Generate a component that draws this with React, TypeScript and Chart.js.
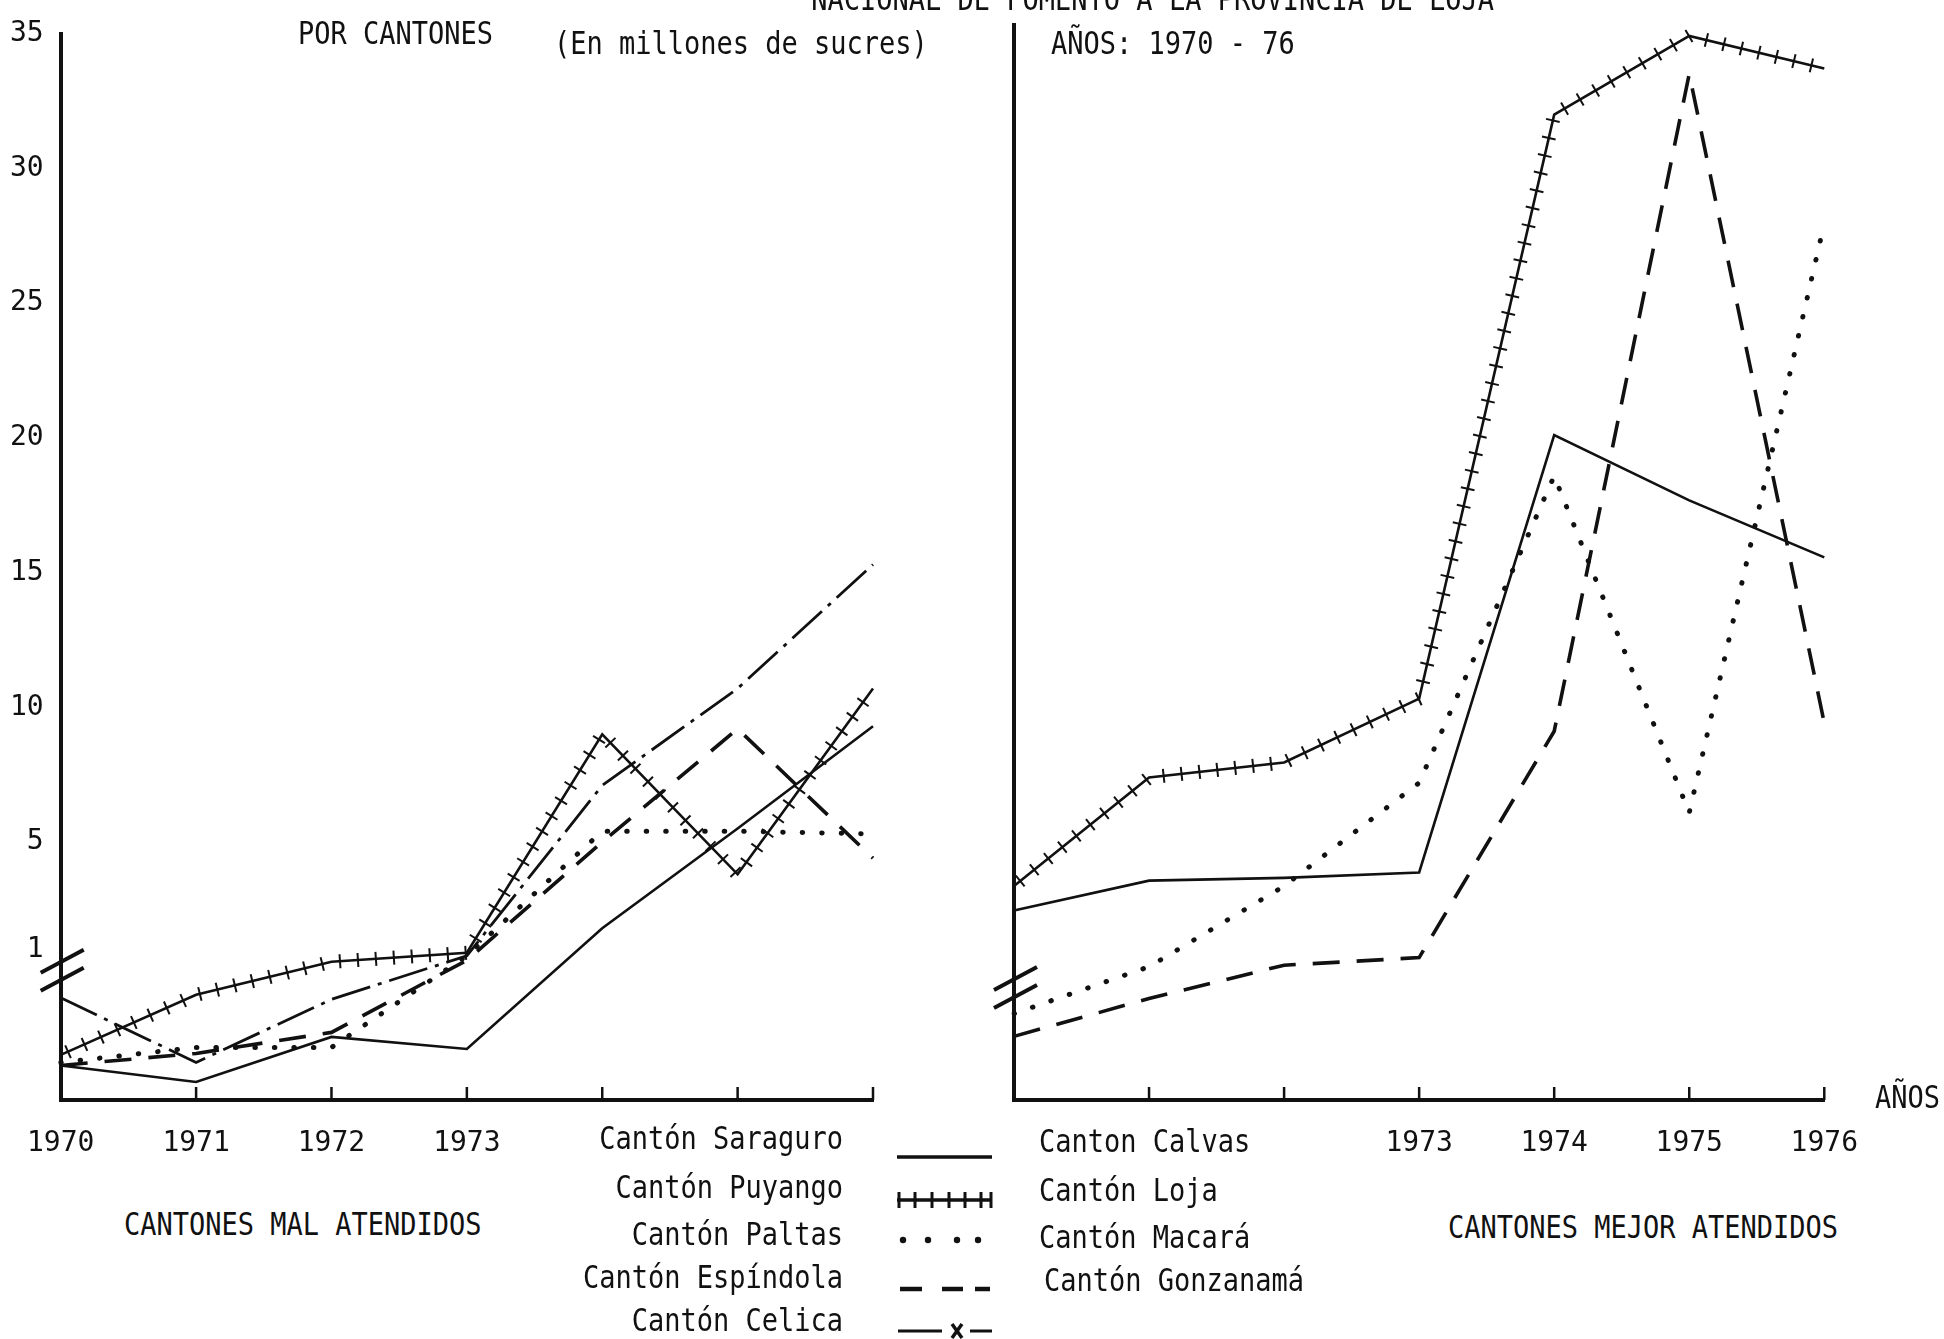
import React, { useEffect, useRef } from 'react';
import { Chart, registerables, LinearScale } from 'chart.js';

Chart.register(...registerables);

// ---------------- data ----------------
const years = ['1970', '1971', '1972', '1973', '1974', '1975', '1976'];
const leftYearLabels = ['1970', '1971', '1972', '1973', '', '', ''];
const rightYearLabels = ['', '', '', '1973', '1974', '1975', '1976'];
const yTicks = [1, 5, 10, 15, 20, 25, 30, 35];

// Cantones mal atendidos (millones de sucres)
const saraguro = [0.23, 0.12, 0.42, 0.34, 1.8, 5.5, 9.3];
const puyango = [0.3, 0.7, 0.92, 0.98, 9.0, 3.8, 10.7];
const paltas = [0.25, 0.35, 0.35, 0.96, 5.4, 5.4, 5.3];
const espindola = [0.23, 0.31, 0.45, 0.93, 5.0, 9.2, 4.4];
const celica = [0.68, 0.25, 0.67, 0.96, 7.1, 10.7, 15.3];

// Cantones mejor atendidos
const calvas = [2.4, 3.5, 3.6, 3.8, 19.9, 17.5, 15.4];
const loja = [3.3, 7.3, 7.85, 10.2, 31.7, 34.6, 33.4];
const macara = [0.57, 0.88, 3.3, 7.1, 18.4, 6.0, 27.7];
const gonzanama = [0.42, 0.67, 0.89, 0.94, 9.0, 33.2, 9.3];

const leftNames = ['Cantón Saraguro', 'Cantón Puyango', 'Cantón Paltas', 'Cantón Espíndola', 'Cantón Celica'];
const rightNames = ['Canton Calvas', 'Cantón Loja', 'Cantón Macará', 'Cantón Gonzanamá'];
const lineStyles = ['solid', 'hatch', 'dots', 'dash', 'dashx'];

// ---------------- styling ----------------
const FONT = '"DejaVu Sans Mono", monospace';
const INK = '#111';
const BREAK_FRACTION = 0.1409; // share of axis height used by the 0..1 segment under the break
const PLOT_BOTTOM = 1100;
const CANVAS_H = 1180;

class BrokenLinearScale extends LinearScale {
  static id = 'brokenLinear';
  static defaults = LinearScale.defaults;
  getPixelForValue(value: number) {
    const max = this.max;
    const d = value <= 1
      ? value * BREAK_FRACTION
      : BREAK_FRACTION + ((value - 1) / (max - 1)) * (1 - BREAK_FRACTION);
    return this.getPixelForDecimal(d);
  }
  getValueForPixel(pixel: number) {
    const d = this.getDecimalForPixel(pixel);
    const max = this.max;
    return d <= BREAK_FRACTION ? d / BREAK_FRACTION : 1 + ((d - BREAK_FRACTION) / (1 - BREAK_FRACTION)) * (max - 1);
  }
}
Chart.register(BrokenLinearScale as any);

function styleProps(style: string) {
  switch (style) {
    case 'solid': return { borderWidth: 2.6, borderDash: [] };
    case 'hatch': return { borderWidth: 2.6, borderDash: [], hatch: true };
    case 'dots': return { borderWidth: 5, borderDash: [0.5, 19], borderCapStyle: 'round' };
    case 'dash': return { borderWidth: 3.6, borderDash: [27, 17], borderCapStyle: 'butt' };
    case 'dashx': return { borderWidth: 2.8, borderDash: [40, 8, 4, 8], borderCapStyle: 'butt' };
  }
  return {};
}

const decorPlugin = {
  id: 'decor',
  afterDatasetsDraw(chart: any) {
    const ctx = chart.ctx;
    chart.data.datasets.forEach((ds: any, i: number) => {
      if (!ds.hatch) return;
      const pts = chart.getDatasetMeta(i).data.map((p: any) => ({ x: p.x, y: p.y }));
      ctx.save();
      ctx.strokeStyle = INK;
      ctx.lineWidth = 2;
      let carry = 8;
      const spacing = 18;
      for (let k = 0; k < pts.length - 1; k++) {
        const a = pts[k], b = pts[k + 1];
        const dx = b.x - a.x, dy = b.y - a.y;
        const len = Math.hypot(dx, dy);
        if (!len) continue;
        const ux = dx / len, uy = dy / len;
        const nx = -uy, ny = ux;
        let t = carry;
        while (t < len) {
          const cx = a.x + ux * t, cy = a.y + uy * t;
          ctx.beginPath();
          ctx.moveTo(cx - nx * 7, cy - ny * 7);
          ctx.lineTo(cx + nx * 7, cy + ny * 7);
          ctx.stroke();
          t += spacing;
        }
        carry = t - len;
      }
      ctx.restore();
    });
  },
  afterDraw(chart: any, _args: any, opts: any) {
    const ctx = chart.ctx;
    const xs = chart.scales.x;
    const ys = chart.scales.y;
    const area = chart.chartArea;
    ctx.save();
    ctx.strokeStyle = INK;
    // small upward tick marks on the x axis
    ctx.lineWidth = 2.5;
    for (let i = 1; i < years.length; i++) {
      const x = xs.getPixelForTick(i);
      ctx.beginPath();
      ctx.moveTo(x, area.bottom);
      ctx.lineTo(x, area.bottom - 13);
      ctx.stroke();
    }
    // axis break marks
    const yb = ys.getPixelForValue(opts.breakValue);
    const x0 = area.left;
    ctx.lineWidth = 4;
    [-9, 9].forEach((off) => {
      ctx.beginPath();
      ctx.moveTo(x0 - 20, yb + off + 11);
      ctx.lineTo(x0 + 23, yb + off - 12);
      ctx.stroke();
    });
    ctx.restore();
  },
};

type PanelProps = {
  left: number;
  width: number;
  yWidth: number;
  padRight: number;
  series: number[][];
  names: string[];
  xLabels: string[];
  showY: boolean;
  breakValue: number;
};

function Panel(props: PanelProps) {
  const ref = useRef<HTMLCanvasElement>(null);
  useEffect(() => {
    const datasets = props.series.map((data, i) => ({
      label: props.names[i],
      data,
      borderColor: INK,
      backgroundColor: INK,
      fill: false,
      pointRadius: 0,
      tension: 0,
      ...styleProps(lineStyles[i]),
    }));
    const chart = new Chart(ref.current as HTMLCanvasElement, {
      type: 'line',
      data: { labels: years, datasets: datasets as any },
      options: {
        responsive: false,
        animation: false,
        layout: { padding: { top: 25, right: props.padRight, bottom: 0, left: 0 } },
        plugins: {
          legend: { display: false },
          tooltip: { enabled: false },
          decor: { breakValue: props.breakValue },
        } as any,
        scales: {
          x: {
            type: 'category',
            offset: false,
            grid: { display: false, drawTicks: false },
            border: { display: true, width: 4, color: INK },
            ticks: {
              autoSkip: false,
              maxRotation: 0,
              padding: 27,
              color: INK,
              font: { family: FONT, size: 28 },
              callback: (_v: any, i: number) => props.xLabels[i],
            },
            afterFit: (s: any) => { s.height = CANVAS_H - PLOT_BOTTOM; },
          },
          y: {
            type: 'brokenLinear' as any,
            min: 0,
            max: 35,
            grid: { display: false, drawTicks: false },
            border: { display: true, width: 4, color: INK },
            ticks: {
              display: props.showY,
              autoSkip: false,
              padding: 17,
              color: INK,
              font: { family: FONT, size: 28 },
            },
            afterBuildTicks: (s: any) => { s.ticks = yTicks.map((v) => ({ value: v })); },
            afterFit: (s: any) => { s.width = props.yWidth; },
          } as any,
        },
      },
      plugins: [decorPlugin as any],
    });
    return () => chart.destroy();
  }, []);
  return (
    <canvas
      ref={ref}
      width={props.width}
      height={CANVAS_H}
      style={{ position: 'absolute', left: props.left, top: 0, width: props.width, height: CANVAS_H }}
    />
  );
}

function Txt({ x, cy, align = 'left', children }: { x: number; cy: number; align?: string; children: any }) {
  const style: any = {
    position: 'absolute',
    top: cy - 15,
    height: 30,
    lineHeight: '30px',
    fontFamily: FONT,
    fontSize: 27,
    color: INK,
    whiteSpace: 'nowrap',
    transform: 'scaleY(1.18)',
  };
  if (align === 'right') {
    style.left = x - 1000;
    style.width = 1000;
    style.textAlign = 'right';
  } else {
    style.left = x;
  }
  return <div style={style}>{children}</div>;
}

function Symbol({ kind, cy }: { kind: string; cy: number }) {
  const w = 100, h = 30, m = 15;
  let content: any = null;
  if (kind === 'solid') content = <line x1={2} y1={m} x2={97} y2={m} stroke={INK} strokeWidth={3.5} />;
  if (kind === 'hatch') {
    const ticks = [4, 20, 37, 54, 70, 86, 96];
    content = (
      <g>
        <line x1={2} y1={m} x2={97} y2={m} stroke={INK} strokeWidth={3.5} />
        {ticks.map((t) => <line key={t} x1={t} y1={m - 8} x2={t} y2={m + 8} stroke={INK} strokeWidth={3} />)}
      </g>
    );
  }
  if (kind === 'dots') content = <g>{[8, 33, 62, 83].map((t) => <circle key={t} cx={t} cy={m} r={3.2} fill={INK} />)}</g>;
  if (kind === 'dash') content = (
    <g>
      <line x1={5} y1={m} x2={27} y2={m} stroke={INK} strokeWidth={4.5} />
      <line x1={47} y1={m} x2={68} y2={m} stroke={INK} strokeWidth={4.5} />
      <line x1={80} y1={m} x2={95} y2={m} stroke={INK} strokeWidth={4.5} />
    </g>
  );
  if (kind === 'dashx') content = (
    <g>
      <line x1={3} y1={m} x2={47} y2={m} stroke={INK} strokeWidth={3} />
      <line x1={57} y1={m - 7} x2={67} y2={m + 7} stroke={INK} strokeWidth={3.5} />
      <line x1={67} y1={m - 7} x2={57} y2={m + 7} stroke={INK} strokeWidth={3.5} />
      <line x1={75} y1={m} x2={97} y2={m} stroke={INK} strokeWidth={3} />
    </g>
  );
  return (
    <svg width={w} height={h} style={{ position: 'absolute', left: 895, top: cy - m }}>
      {content}
    </svg>
  );
}

const leftRowY = [1138, 1187, 1234, 1277, 1320];
const rightRowY = [1141, 1190, 1237, 1280];
const symbolRowY = [1157, 1200, 1240, 1289, 1331];

export default function App() {
  return (
    <div style={{ position: 'fixed', left: 0, top: 0, width: 1944, height: 1339, background: '#fff', overflow: 'hidden' }}>
      <Panel
        left={0}
        width={900}
        yWidth={60}
        padRight={22}
        series={[saraguro, puyango, paltas, espindola, celica]}
        names={leftNames}
        xLabels={leftYearLabels}
        showY={true}
        breakValue={0.86}
      />
      <Panel
        left={960}
        width={925}
        yWidth={54}
        padRight={35}
        series={[calvas, loja, macara, gonzanama]}
        names={rightNames}
        xLabels={rightYearLabels}
        showY={false}
        breakValue={0.74}
      />

      <Txt x={1494} cy={-1} align="right">NACIONAL DE FOMENTO A LA PROVINCIA DE LOJA</Txt>
      <Txt x={298} cy={33}>POR CANTONES</Txt>
      <Txt x={554} cy={43}>(En millones de sucres)</Txt>
      <Txt x={1051} cy={43}>AÑOS: 1970 - 76</Txt>
      <Txt x={1875} cy={1097}>AÑOS</Txt>
      <Txt x={124} cy={1224}>CANTONES MAL ATENDIDOS</Txt>
      <Txt x={1448} cy={1227}>CANTONES MEJOR ATENDIDOS</Txt>

      {leftNames.map((n, i) => (
        <Txt key={n} x={843} cy={leftRowY[i]} align="right">{n}</Txt>
      ))}
      {rightNames.map((n, i) => (
        <Txt key={n} x={i === 3 ? 1044 : 1039} cy={rightRowY[i]}>{n}</Txt>
      ))}
      {lineStyles.map((s, i) => (
        <Symbol key={s} kind={s} cy={symbolRowY[i]} />
      ))}
    </div>
  );
}
